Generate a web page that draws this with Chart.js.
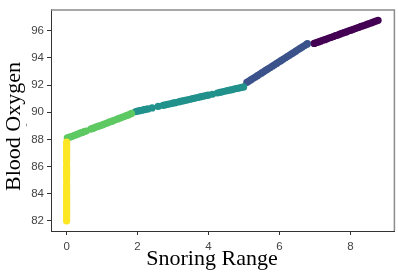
<!DOCTYPE html>
<html>
<head>
<meta charset="utf-8">
<script src="https://cdn.jsdelivr.net/npm/chart.js@4/dist/chart.umd.min.js"></script>
<style>
html,body{margin:0;padding:0;background:#fff;}
#c{display:block;}
</style>
</head>
<body>
<canvas id="c" width="398" height="273"></canvas>
<script>
const xTitle = 'Snoring Range';
const yTitle = 'Blood Oxygen';
const xTicks = [0, 2, 4, 6, 8];
const yTicks = [82, 84, 86, 88, 90, 92, 94, 96];

const yellowX = [0,0,0,0,0,0,0,0,0,0,0,0,0,0,0,0,0,0,0,0,0,0,0,0,0,0,0,0,0,0,0,0,0,0,0,0,0,0,0,0,0,0];
const yellowY = [82.0,82.1,82.25,82.4,82.5,82.65,82.8,82.9,83.05,83.2,83.3,83.45,83.6,83.7,83.85,84.0,84.1,84.25,84.4,84.5,84.7,84.98,85.12,85.25,85.4,85.5,85.65,85.8,85.9,86.05,86.32,86.45,86.6,86.7,86.85,87.0,87.1,87.25,87.4,87.5,87.65,87.8];

const greenX = [0.02,0.08,0.14,0.2,0.26,0.32,0.38,0.44,0.5,0.55,0.68,0.73,0.78,0.84,0.9,0.96,1.02,1.08,1.14,1.2,1.26,1.32,1.38,1.44,1.5,1.56,1.62,1.68,1.74,1.8,1.83];
const greenY = [88.12,88.17,88.22,88.28,88.34,88.4,88.46,88.52,88.58,88.62,88.76,88.81,88.86,88.92,88.98,89.03,89.09,89.15,89.21,89.27,89.33,89.39,89.45,89.51,89.57,89.63,89.69,89.75,89.81,89.87,89.92];

const tealX = [1.94,2.0,2.06,2.12,2.18,2.24,2.29,2.41,2.58,2.72,2.78,2.85,2.92,2.99,3.06,3.15,3.2,3.27,3.34,3.41,3.48,3.55,3.62,3.69,3.76,3.83,3.9,3.96,4.0,4.11,4.25,4.32,4.39,4.46,4.53,4.6,4.67,4.74,4.81,4.88,4.94,4.99];
const tealY = [90.04,90.08,90.12,90.15,90.19,90.22,90.25,90.32,90.43,90.51,90.55,90.59,90.63,90.67,90.71,90.76,90.80,90.84,90.88,90.92,90.96,91.01,91.05,91.09,91.13,91.17,91.21,91.25,91.27,91.33,91.42,91.46,91.51,91.55,91.59,91.63,91.67,91.72,91.76,91.80,91.84,91.87];

const blueX = [5.08,5.14,5.2,5.26,5.32,5.38,5.44,5.5,5.56,5.62,5.68,5.74,5.8,5.86,5.92,5.98,6.04,6.1,6.16,6.22,6.28,6.34,6.4,6.46,6.52,6.58,6.64,6.7,6.76,6.79];
const blueY = [92.2,92.3,92.4,92.5,92.6,92.7,92.8,92.9,93.0,93.1,93.2,93.3,93.4,93.5,93.6,93.7,93.8,93.9,94.0,94.1,94.2,94.3,94.4,94.5,94.6,94.7,94.8,94.9,95.0,95.05];

const purpleX = [6.98,7.04,7.1,7.16,7.22,7.28,7.34,7.4,7.46,7.52,7.58,7.64,7.7,7.76,7.82,7.88,7.94,8.0,8.06,8.12,8.18,8.24,8.3,8.36,8.42,8.48,8.54,8.6,8.66,8.72,8.78];
const purpleY = [95.07,95.13,95.18,95.24,95.30,95.35,95.41,95.47,95.52,95.58,95.64,95.69,95.75,95.81,95.86,95.92,95.98,96.03,96.09,96.15,96.20,96.26,96.32,96.37,96.43,96.49,96.54,96.60,96.66,96.71,96.77];

const groups = [
  {x: yellowX, y: yellowY, color: '#fde725'},
  {x: greenX, y: greenY, color: '#5ec962'},
  {x: tealX, y: tealY, color: '#21918c'},
  {x: blueX, y: blueY, color: '#3b528b'},
  {x: purpleX, y: purpleY, color: '#440154'}
];

const datasets = groups.map(g => ({
  data: g.x.map((v, i) => ({x: v, y: g.y[i]})),
  backgroundColor: g.color,
  borderColor: g.color,
  borderWidth: 0,
  pointRadius: 3.6,
  pointHoverRadius: 3.6
}));

const framePlugin = {
  id: 'frame',
  afterDraw(chart) {
    const ctx = chart.ctx;
    const a = chart.chartArea;
    ctx.save();
    ctx.strokeStyle = '#8c8c8c';
    ctx.lineWidth = 1.5;
    ctx.beginPath();
    ctx.moveTo(a.left, a.top);
    ctx.lineTo(a.right, a.top);
    ctx.lineTo(a.right, a.bottom);
    ctx.stroke();
    ctx.fillStyle = '#000';
    ctx.font = '22px "Liberation Serif"';
    ctx.textAlign = 'center';
    ctx.textBaseline = 'alphabetic';
    ctx.fillText(xTitle, 212, 265);
    ctx.save();
    ctx.translate(19.5, 126.5);
    ctx.rotate(-Math.PI / 2);
    ctx.fillText(yTitle, 0, 0);
    ctx.restore();
    ctx.save();
    ctx.translate(29, 125);
    ctx.rotate(-Math.PI / 2);
    ctx.fillStyle = '#888';
    ctx.font = '10px "Liberation Sans"';
    ctx.fillText('-', 0, 0);
    ctx.restore();
    ctx.restore();
  }
};

new Chart(document.getElementById('c'), {
  type: 'scatter',
  data: {datasets},
  plugins: [framePlugin],
  options: {
    responsive: false,
    animation: false,
    devicePixelRatio: 1,
    layout: {padding: {left: 0, right: 3, top: 8, bottom: 0}},
    plugins: {legend: {display: false}, tooltip: {enabled: false}},
    scales: {
      x: {
        type: 'linear',
        min: -0.44,
        max: 9.24,
        afterBuildTicks: s => { s.ticks = xTicks.map(v => ({value: v})); },
        afterFit: s => { s.height = 42; },
        grid: {drawOnChartArea: false, drawTicks: true, tickLength: 4, color: '#333'},
        border: {display: true, color: '#333', width: 1},
        ticks: {color: '#444', font: {family: 'Liberation Sans', size: 11.5}, padding: 5, maxRotation: 0}
      },
      y: {
        type: 'linear',
        min: 81.26,
        max: 97.54,
        afterBuildTicks: s => { s.ticks = yTicks.map(v => ({value: v})); },
        afterFit: s => { s.width = 51; },
        grid: {drawOnChartArea: false, drawTicks: true, tickLength: 4, color: '#333'},
        border: {display: true, color: '#333', width: 1},
        ticks: {color: '#444', font: {family: 'Liberation Sans', size: 11.5}, padding: 3}
      }
    }
  }
});
</script>
</body>
</html>
